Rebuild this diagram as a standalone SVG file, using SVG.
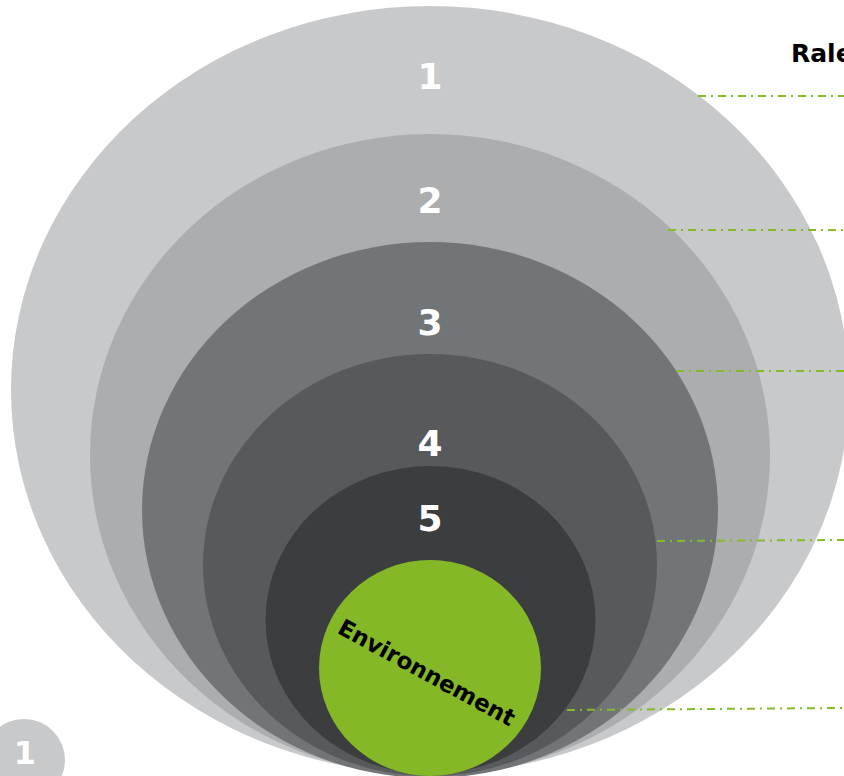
<svg xmlns="http://www.w3.org/2000/svg" width="844" height="776" viewBox="0 0 844 776">
<style>
.num{font-family:"DejaVu Sans",Verdana,sans-serif;font-weight:bold;fill:#fff;text-anchor:middle}
.lead{stroke:#84bb26;stroke-width:2;stroke-dasharray:8 5 2 5;fill:none}
</style>
<rect width="844" height="776" fill="#fff"/>
<g id="ring1"><ellipse cx="430" cy="390" rx="419" ry="384" fill="#c8c9cb"/><text class="num" x="430" y="89" font-size="36">1</text></g>
<g id="ring2"><ellipse cx="430" cy="455" rx="340" ry="321" fill="#acadaf"/><text class="num" x="430" y="213" font-size="36">2</text></g>
<g id="ring3"><ellipse cx="430" cy="510" rx="288" ry="268" fill="#727578"/><text class="num" x="430" y="335" font-size="36">3</text></g>
<g id="ring4"><ellipse cx="430" cy="565" rx="227" ry="211" fill="#58595b"/><text class="num" x="430" y="456" font-size="36">4</text></g>
<g id="ring5"><ellipse cx="430.5" cy="620" rx="165" ry="154" fill="#3c3d3f"/><text class="num" x="430" y="531" font-size="36">5</text></g>
<g id="environnement"><ellipse cx="430" cy="668" rx="111" ry="108" fill="#84b827"/>
<text x="0" y="0" transform="translate(426,674) rotate(28.5)" font-family="DejaVu Sans,Verdana,sans-serif" font-weight="bold" font-size="23" fill="#000" text-anchor="middle" dominant-baseline="middle">Environnement</text></g>
<g id="connectors">
<line class="lead" x1="698" y1="96" x2="844" y2="96"/>
<line class="lead" x1="668" y1="230" x2="844" y2="230"/>
<line class="lead" x1="676" y1="371" x2="844" y2="371"/>
<line class="lead" x1="657" y1="541" x2="844" y2="540"/>
<line class="lead" x1="567" y1="710" x2="844" y2="708"/>
</g>
<g id="title"><text x="791" y="62" font-family="DejaVu Sans,Verdana,sans-serif" font-weight="bold" font-size="25" fill="#000">Rale</text></g>
<g id="badge"><circle cx="24" cy="760" r="41" fill="#c8c9cb"/><text class="num" x="25" y="764" font-size="32">1</text></g>
</svg>
